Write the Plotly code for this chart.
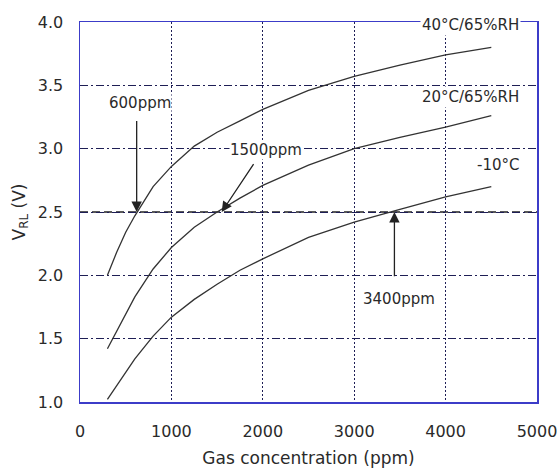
import plotly.graph_objects as go

# ---- data ----
conc = [300, 400, 500, 600, 800, 1000, 1250, 1500, 1750, 2000, 2500, 3000, 3500, 4000, 4500]
v_40c = [2.00, 2.18, 2.34, 2.47, 2.70, 2.86, 3.02, 3.13, 3.22, 3.31, 3.46, 3.57, 3.66, 3.74, 3.80]
v_20c = [1.42, 1.56, 1.70, 1.83, 2.05, 2.22, 2.38, 2.50, 2.61, 2.71, 2.87, 3.00, 3.09, 3.17, 3.26]
v_m10c = [1.02, 1.13, 1.24, 1.34, 1.52, 1.67, 1.81, 1.93, 2.04, 2.13, 2.30, 2.42, 2.52, 2.62, 2.70]

series_names = ["40°C/65%RH", "20°C/65%RH", "-10°C"]
series_label_pos = [(4830, 3.98), (4820, 3.41), (4820, 2.87)]

threshold_v = 2.5
crossings = [620, 1550, 3440]          # ppm where curves cross threshold
crossing_labels = ["600ppm", "1500ppm", "3400ppm"]
arrow_tails = [(620, 3.23), (1910, 2.89), (3440, 1.98)]
label_pos = [(660, 3.36), (2030, 2.99), (3490, 1.81)]

x_ticks = [0, 1000, 2000, 3000, 4000, 5000]
y_ticks = [1.0, 1.5, 2.0, 2.5, 3.0, 3.5, 4.0]

FONT = "DejaVu Sans"
TXT = "#2a2a2a"
CURVE = "#333333"
FRAME = "#3c3cc8"
GRID = "#1e1e55"

fig = go.Figure()
for ys in (v_40c, v_20c, v_m10c):
    fig.add_trace(go.Scatter(x=conc, y=ys, mode="lines",
                             line=dict(color=CURVE, width=1.3),
                             showlegend=False, hoverinfo="skip"))

# threshold reference line (dashed, replaces the dash-dot grid line)
fig.add_shape(type="line", xref="paper", x0=0, x1=1, yref="y", y0=threshold_v, y1=threshold_v,
              line=dict(color="white", width=2.5), layer="between")
fig.add_shape(type="line", xref="paper", x0=0, x1=1, yref="y", y0=threshold_v, y1=threshold_v,
              line=dict(color="#222222", width=1.4, dash="8px,4px"), layer="between")

annotations = []
for name, (lx, ly) in zip(series_names, series_label_pos):
    annotations.append(dict(x=lx, y=ly, xref="x", yref="y", text=name, showarrow=False,
                            xanchor="right", yanchor="middle", bgcolor="white",
                            font=dict(family=FONT, size=15, color=TXT), borderpad=1))
for cx, (tx, ty), lab, (lx, ly) in zip(crossings, arrow_tails, crossing_labels, label_pos):
    annotations.append(dict(x=cx, y=threshold_v, xref="x", yref="y",
                            ax=tx, ay=ty, axref="x", ayref="y", text="",
                            showarrow=True, arrowhead=2, arrowsize=1.6, arrowwidth=1.3,
                            arrowcolor="#222222", standoff=0, startstandoff=0))
    annotations.append(dict(x=lx, y=ly, xref="x", yref="y", text=lab, showarrow=False,
                            xanchor="center", yanchor="middle", bgcolor="white",
                            font=dict(family=FONT, size=15, color=TXT), borderpad=0))

fig.update_layout(
    width=560, height=468,
    margin=dict(l=80, r=23, t=22, b=66),
    paper_bgcolor="white", plot_bgcolor="white",
    font=dict(family=FONT, size=16, color=TXT),
    annotations=annotations,
    xaxis=dict(range=[0, 5000], tickvals=x_ticks, ticktext=[str(v) for v in x_ticks],
               showline=True, mirror=True, linecolor=FRAME, linewidth=1.5,
               showgrid=True, gridcolor=GRID, gridwidth=1, griddash="2px,2px",
               zeroline=False, ticks="", ticklabelstandoff=14,
               title=dict(text="Gas concentration (ppm)", font=dict(size=17), standoff=12),
               automargin=False),
    yaxis=dict(range=[1.0, 4.0], tickvals=y_ticks, ticktext=[f"{v:.1f}" for v in y_ticks],
               showline=True, mirror=True, linecolor=FRAME, linewidth=1.5,
               showgrid=True, gridcolor=GRID, gridwidth=1, griddash="8px,3px,2px,3px",
               zeroline=False, ticks="", ticklabelstandoff=12,
               title=dict(text="V<sub>RL</sub> (V)", font=dict(size=17), standoff=8),
               automargin=False),
)

fig.write_html("out.html", config={"displayModeBar": False, "staticPlot": True})

# remove the default page margin so the figure sits at the window's corner
with open("out.html", "r", encoding="utf-8") as f:
    html = f.read()
html = html.replace("<body>", '<body style="margin:0;padding:0;overflow:hidden">', 1)
with open("out.html", "w", encoding="utf-8") as f:
    f.write(html)
